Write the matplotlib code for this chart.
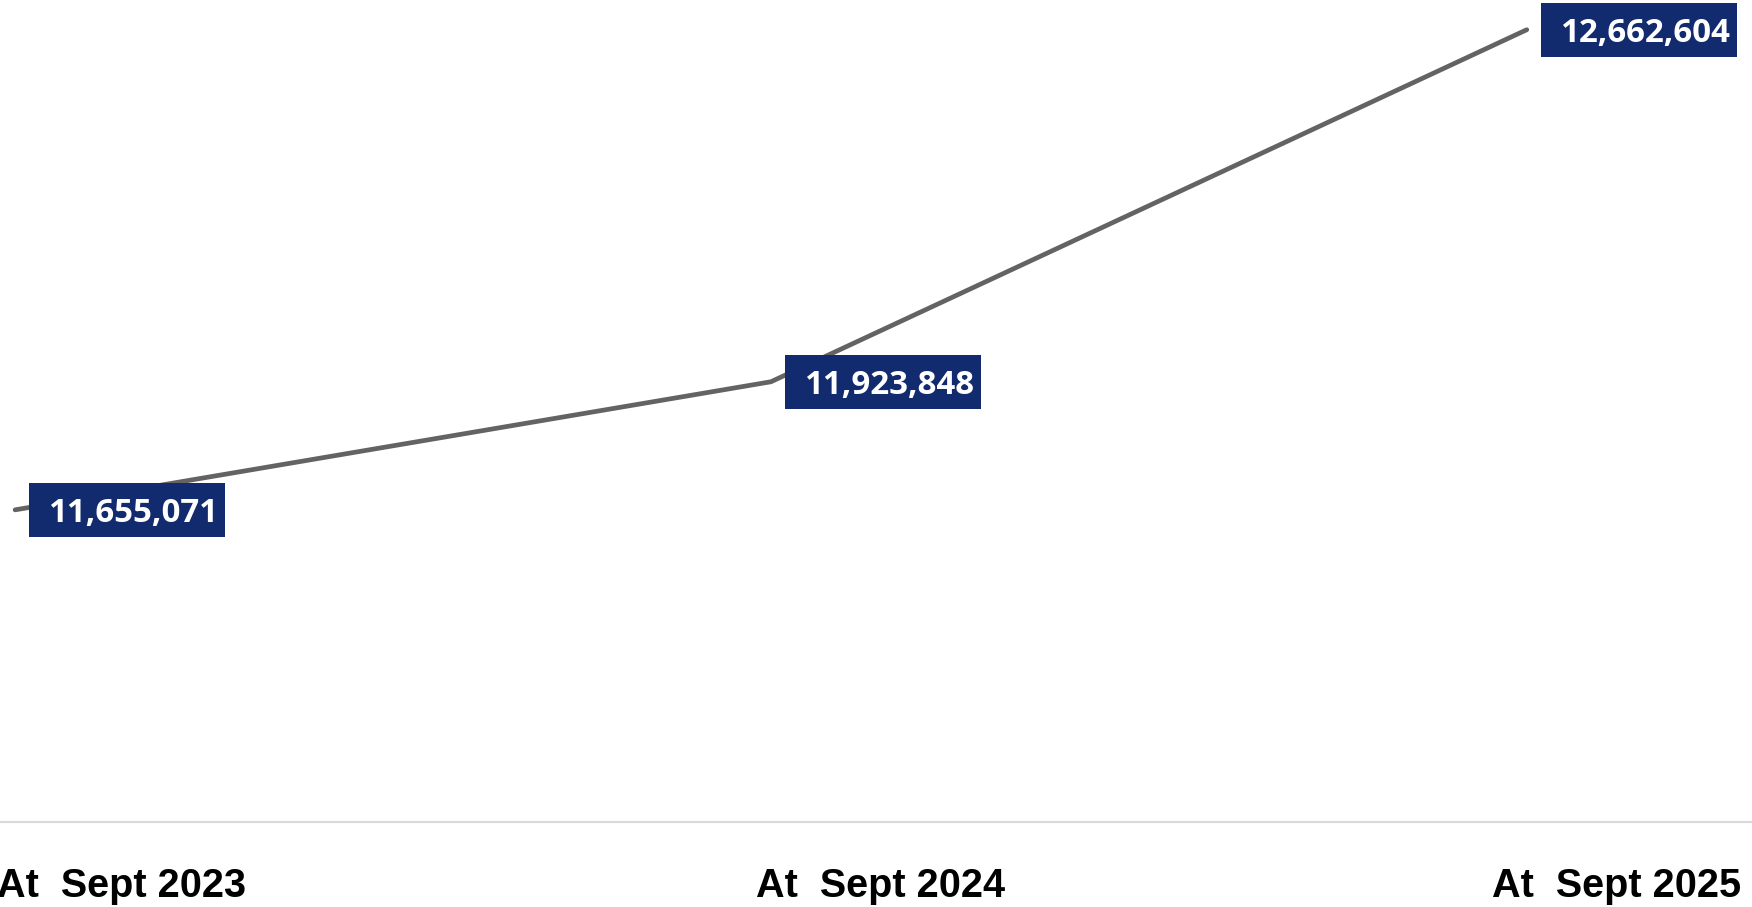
import matplotlib.pyplot as plt
from matplotlib.patches import Rectangle
from matplotlib.transforms import ScaledTranslation

# Population at each September snapshot
periods = ['At  Sept 2023', 'At  Sept 2024', 'At  Sept 2025']
population = [11655071, 11923848, 12662604]

line_color = '#636363'
box_color = '#122B6F'

fig = plt.figure(figsize=(17.52, 9.07), dpi=100)
ax = fig.add_axes([0, 85 / 907, 1, 822 / 907])

x = list(range(len(periods)))
ax.plot(x, population, color=line_color, lw=3.4, solid_capstyle='round',
        solid_joinstyle='round', zorder=2)

ax.set_xlim(-0.02, 2.298)
ax.set_ylim(11_000_000, 12_725_000)

# value boxes sit just right of each point (box size in inches, anchored on the point)
for xi, v in zip(x, population):
    anchor = fig.dpi_scale_trans + ScaledTranslation(xi, v, ax.transData)
    ax.add_patch(Rectangle((0.14, -0.27), 1.96, 0.54, transform=anchor,
                           fc=box_color, ec='none', zorder=3, clip_on=False))
    ax.annotate(f'{v:,}', xy=(xi, v), xytext=(118, -12), textcoords='offset pixels',
                ha='center', va='baseline', color='white', fontsize=23.8,
                fontweight='bold', family=['Open Sans', 'DejaVu Sans'], zorder=4)

# category labels under the axis line
label_shift = [106, 110, 90]
for xi, lab, dx in zip(x, periods, label_shift):
    ax.annotate(lab, xy=(xi, 0), xycoords=('data', 'axes fraction'),
                xytext=(dx, -75), textcoords='offset pixels', ha='center',
                va='baseline', fontsize=28.5, fontweight='bold',
                family=['Liberation Sans', 'DejaVu Sans'], color='black',
                annotation_clip=False)

for side in ['top', 'left', 'right']:
    ax.spines[side].set_visible(False)
ax.spines['bottom'].set_color('#d9d9d9')
ax.spines['bottom'].set_linewidth(1.5)
ax.set_xticks([])
ax.set_yticks([])
ax.patch.set_alpha(0)

fig.savefig('out.png', dpi=100)
